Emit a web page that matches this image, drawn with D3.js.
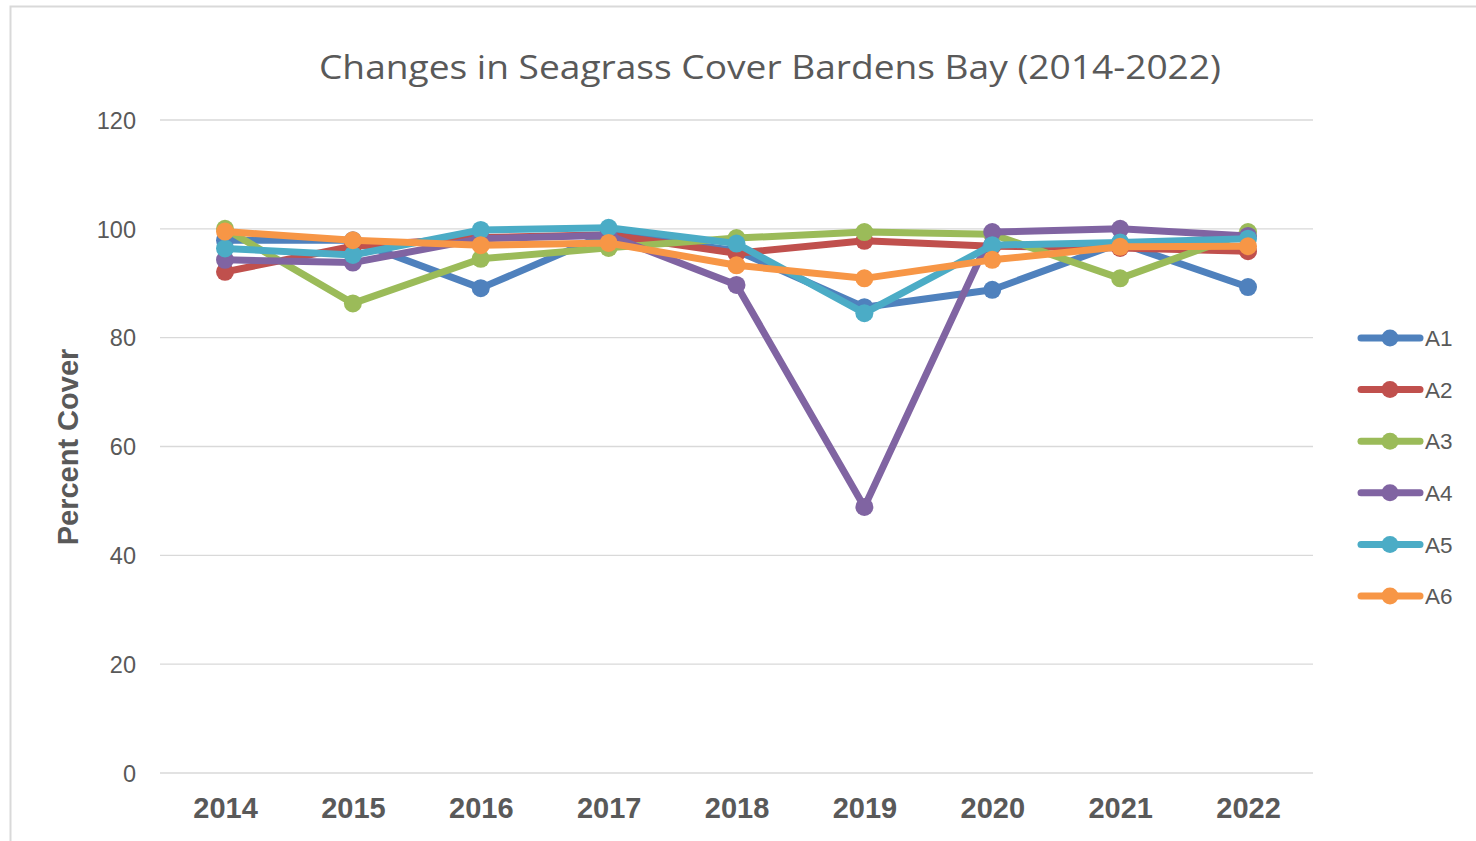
<!DOCTYPE html>
<html><head><meta charset="utf-8">
<script src="https://cdn.jsdelivr.net/npm/d3@7"></script>
<style>body{margin:0;background:#fff;}svg{display:block;}</style>
</head><body>
<svg id="c" width="1476" height="841"></svg>
<script>
const years = ["2014","2015","2016","2017","2018","2019","2020","2021","2022"];
const A1 = [97.9, 97.9, 89.1, 99.2, 96.0, 85.6, 88.8, 97.4, 89.3];
const A2 = [92.1, 96.8, 98.4, 98.9, 95.5, 97.8, 96.8, 96.5, 95.9];
const A3 = [100.0, 86.3, 94.5, 96.5, 98.3, 99.4, 99.0, 90.9, 99.4];
const A4 = [94.3, 93.8, 98.2, 98.8, 89.7, 48.9, 99.4, 100.0, 98.7];
const A5 = [96.4, 95.2, 99.8, 100.2, 97.3, 84.5, 97.0, 97.5, 98.2];
const A6 = [99.5, 97.9, 97.0, 97.4, 93.3, 90.9, 94.3, 96.7, 96.8];
const seriesNames = ["A1","A2","A3","A4","A5","A6"];
const seriesValues = [A1,A2,A3,A4,A5,A6];
const colors = ["#4F81BD","#C0504D","#9BBB59","#8064A2","#4BACC6","#F79646"];
const yTicks = [0,20,40,60,80,100,120];
const title = "Changes in Seagrass Cover Bardens Bay (2014-2022)";
const yTitle = "Percent Cover";

const svg = d3.select("#c");
svg.append("rect").attr("x",10.5).attr("y",6.5).attr("width",1490).attr("height",860)
  .attr("fill","#fff").attr("stroke","#d9d9d9").attr("stroke-width",2);

const x = d3.scalePoint().domain(years).range([225,1248]);
const y = d3.scaleLinear().domain([0,120]).range([773,120]);

// gridlines
svg.append("g").selectAll("line").data(yTicks).join("line")
  .attr("x1",160).attr("x2",1313).attr("y1",d=>y(d)).attr("y2",d=>y(d))
  .attr("stroke","#d9d9d9").attr("stroke-width",1.3);

// y axis labels
const yAxis = d3.axisLeft(y).tickValues(yTicks).tickSize(0).tickPadding(0);
const gy = svg.append("g").attr("transform","translate(136,0)").call(yAxis);
gy.select(".domain").remove();
gy.selectAll("text").attr("font-family","Liberation Sans, Arial, sans-serif")
  .attr("font-size",23.5).attr("fill","#595959").attr("dy","0.35em");

// x axis labels
const xAxis = d3.axisBottom(x).tickSize(0).tickPadding(0);
const gx = svg.append("g").attr("transform","translate(0,797)").call(xAxis);
gx.select(".domain").remove();
gx.selectAll("text").attr("font-family","Liberation Sans, Arial, sans-serif")
  .attr("font-size",29).attr("font-weight","bold").attr("fill","#595959");

// title
svg.append("text").attr("x",770).attr("y",79).attr("text-anchor","middle")
  .attr("font-family","Open Sans, sans-serif").attr("font-size",33).attr("fill","#595959")
  .attr("textLength",902).attr("lengthAdjust","spacingAndGlyphs")
  .text(title);

// y title
svg.append("text").attr("transform","translate(78,447) rotate(-90)").attr("text-anchor","middle")
  .attr("font-family","Liberation Sans, Arial, sans-serif").attr("font-size",29)
  .attr("font-weight","bold").attr("fill","#595959").text(yTitle);

// lines
const line = d3.line().x((d,i)=>x(years[i])).y(d=>y(d));
seriesValues.forEach((vals,si)=>{
  const g = svg.append("g");
  g.append("path").datum(vals).attr("d",line).attr("fill","none")
    .attr("stroke",colors[si]).attr("stroke-width",7).attr("stroke-linejoin","round").attr("stroke-linecap","round");
  g.selectAll("circle").data(vals).join("circle")
    .attr("cx",(d,i)=>x(years[i])).attr("cy",d=>y(d)).attr("r",9).attr("fill",colors[si]);
});

// legend
const lg = svg.append("g");
seriesNames.forEach((n,i)=>{
  const yy = 338 + i*51.6;
  lg.append("line").attr("x1",1361).attr("x2",1420).attr("y1",yy).attr("y2",yy)
    .attr("stroke",colors[i]).attr("stroke-width",7).attr("stroke-linecap","round");
  lg.append("circle").attr("cx",1390).attr("cy",yy).attr("r",8.5).attr("fill",colors[i]);
  lg.append("text").attr("x",1425).attr("y",yy).attr("dy","0.36em")
    .attr("font-family","Liberation Sans, Arial, sans-serif").attr("font-size",22.5)
    .attr("fill","#595959").text(n);
});
</script>
</body></html>
